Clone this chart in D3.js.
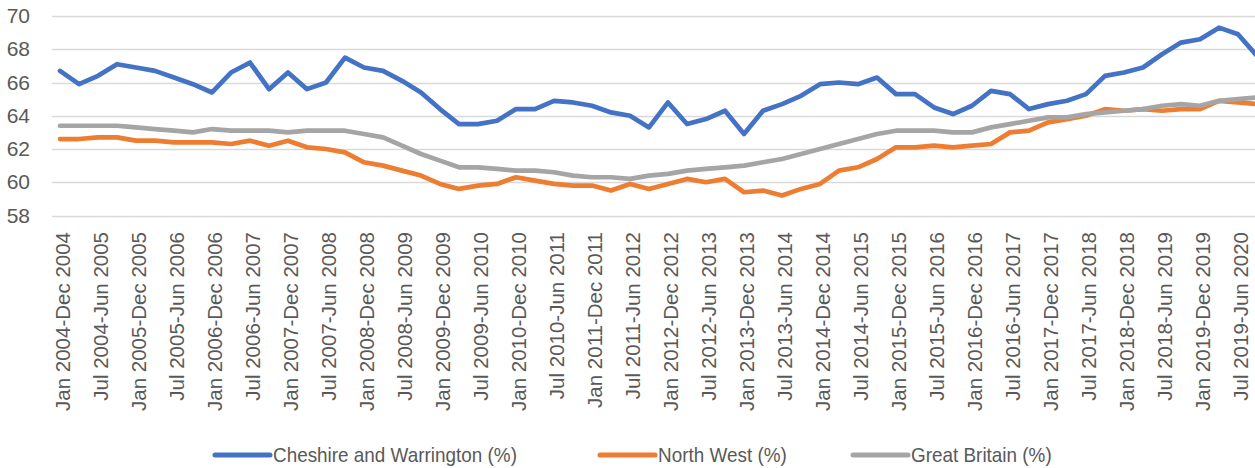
<!DOCTYPE html>
<html>
<head>
<meta charset="utf-8">
<script src="https://cdn.jsdelivr.net/npm/d3@7"></script>
<style>
  body { margin: 0; background: #fff; }
  svg { display: block; }
  text { font-family: "Liberation Sans", Arial, sans-serif; fill: #595959; }
</style>
</head>
<body>
<svg id="chart"></svg>
<script>
// rolling annual periods, quarterly
const categories = [
  "Jan 2004-Dec 2004", "Apr 2004-Mar 2005", "Jul 2004-Jun 2005", "Oct 2004-Sep 2005",
  "Jan 2005-Dec 2005", "Apr 2005-Mar 2006", "Jul 2005-Jun 2006", "Oct 2005-Sep 2006",
  "Jan 2006-Dec 2006", "Apr 2006-Mar 2007", "Jul 2006-Jun 2007", "Oct 2006-Sep 2007",
  "Jan 2007-Dec 2007", "Apr 2007-Mar 2008", "Jul 2007-Jun 2008", "Oct 2007-Sep 2008",
  "Jan 2008-Dec 2008", "Apr 2008-Mar 2009", "Jul 2008-Jun 2009", "Oct 2008-Sep 2009",
  "Jan 2009-Dec 2009", "Apr 2009-Mar 2010", "Jul 2009-Jun 2010", "Oct 2009-Sep 2010",
  "Jan 2010-Dec 2010", "Apr 2010-Mar 2011", "Jul 2010-Jun 2011", "Oct 2010-Sep 2011",
  "Jan 2011-Dec 2011", "Apr 2011-Mar 2012", "Jul 2011-Jun 2012", "Oct 2011-Sep 2012",
  "Jan 2012-Dec 2012", "Apr 2012-Mar 2013", "Jul 2012-Jun 2013", "Oct 2012-Sep 2013",
  "Jan 2013-Dec 2013", "Apr 2013-Mar 2014", "Jul 2013-Jun 2014", "Oct 2013-Sep 2014",
  "Jan 2014-Dec 2014", "Apr 2014-Mar 2015", "Jul 2014-Jun 2015", "Oct 2014-Sep 2015",
  "Jan 2015-Dec 2015", "Apr 2015-Mar 2016", "Jul 2015-Jun 2016", "Oct 2015-Sep 2016",
  "Jan 2016-Dec 2016", "Apr 2016-Mar 2017", "Jul 2016-Jun 2017", "Oct 2016-Sep 2017",
  "Jan 2017-Dec 2017", "Apr 2017-Mar 2018", "Jul 2017-Jun 2018", "Oct 2017-Sep 2018",
  "Jan 2018-Dec 2018", "Apr 2018-Mar 2019", "Jul 2018-Jun 2019", "Oct 2018-Sep 2019",
  "Jan 2019-Dec 2019", "Apr 2019-Mar 2020", "Jul 2019-Jun 2020", "Oct 2019-Sep 2020"
];

const cheshire = [
  66.7, 65.9, 66.4, 67.1, 66.9, 66.7, 66.3, 65.9, 65.4, 66.6,
  67.2, 65.6, 66.6, 65.6, 66.0, 67.5, 66.9, 66.7, 66.1, 65.4,
  64.4, 63.5, 63.5, 63.7, 64.4, 64.4, 64.9, 64.8, 64.6, 64.2,
  64.0, 63.3, 64.8, 63.5, 63.8, 64.3, 62.9, 64.3, 64.7, 65.2,
  65.9, 66.0, 65.9, 66.3, 65.3, 65.3, 64.5, 64.1, 64.6, 65.5,
  65.3, 64.4, 64.7, 64.9, 65.3, 66.4, 66.6, 66.9, 67.7, 68.4,
  68.6, 69.3, 68.9, 67.6
];

const northWest = [
  62.6, 62.6, 62.7, 62.7, 62.5, 62.5, 62.4, 62.4, 62.4, 62.3,
  62.5, 62.2, 62.5, 62.1, 62.0, 61.8, 61.2, 61.0, 60.7, 60.4,
  59.9, 59.6, 59.8, 59.9, 60.3, 60.1, 59.9, 59.8, 59.8, 59.5,
  59.9, 59.6, 59.9, 60.2, 60.0, 60.2, 59.4, 59.5, 59.2, 59.6,
  59.9, 60.7, 60.9, 61.4, 62.1, 62.1, 62.2, 62.1, 62.2, 62.3,
  63.0, 63.1, 63.6, 63.8, 64.0, 64.4, 64.3, 64.4, 64.3, 64.4,
  64.4, 64.9, 64.8, 64.7
];

const greatBritain = [
  63.4, 63.4, 63.4, 63.4, 63.3, 63.2, 63.1, 63.0, 63.2, 63.1,
  63.1, 63.1, 63.0, 63.1, 63.1, 63.1, 62.9, 62.7, 62.2, 61.7,
  61.3, 60.9, 60.9, 60.8, 60.7, 60.7, 60.6, 60.4, 60.3, 60.3,
  60.2, 60.4, 60.5, 60.7, 60.8, 60.9, 61.0, 61.2, 61.4, 61.7,
  62.0, 62.3, 62.6, 62.9, 63.1, 63.1, 63.1, 63.0, 63.0, 63.3,
  63.5, 63.7, 63.9, 63.9, 64.1, 64.2, 64.3, 64.4, 64.6, 64.7,
  64.6, 64.9, 65.0, 65.1
];

const yTicks = [58, 60, 62, 64, 66, 68, 70];
const seriesNames = ["Cheshire and Warrington (%)", "North West (%)", "Great Britain (%)"];
const seriesColors = ["#4472C4", "#ED7D31", "#A5A5A5"];

const W = 1255, H = 468;
const svg = d3.select("#chart").attr("width", W).attr("height", H);

// band per period, plot runs a bit past the right edge like the original
const x = d3.scaleBand()
  .domain(categories)
  .range([50.5, 50.5 + categories.length * 19])
  .padding(0);
const y = d3.scaleLinear().domain([58, 70]).range([215.5, 16]);
const cx = d => x(d) + x.bandwidth() / 2;

// gridlines
svg.append("g")
  .selectAll("line")
  .data(yTicks)
  .join("line")
  .attr("x1", 52)
  .attr("x2", x.range()[1])
  .attr("y1", d => Math.round(y(d)) + 0.5)
  .attr("y2", d => Math.round(y(d)) + 0.5)
  .attr("stroke", "#d9d9d9")
  .attr("stroke-width", 1.3);

// y axis labels
const yAxis = svg.append("g")
  .attr("transform", "translate(30,0)")
  .call(d3.axisLeft(y).tickValues(yTicks).tickSize(0).tickPadding(0).tickFormat(d3.format("d")));
yAxis.select(".domain").remove();
yAxis.selectAll("text")
  .attr("font-size", 21)
  .attr("font-family", "Liberation Sans, Arial, sans-serif")
  .attr("fill", "#595959");

// x axis labels, every second period
const xAxis = svg.append("g")
  .attr("transform", "translate(0,232)")
  .call(d3.axisBottom(x).tickValues(categories.filter((d, i) => i % 2 === 0)).tickSize(0));
xAxis.select(".domain").remove();
xAxis.selectAll("text")
  .attr("transform", "rotate(-90)")
  .attr("x", 0)
  .attr("y", 3)
  .attr("dy", "0.35em")
  .attr("text-anchor", "end")
  .attr("font-size", 20.5)
  .attr("font-family", "Liberation Sans, Arial, sans-serif")
  .attr("fill", "#595959");

// lines, later series drawn on top
const allSeries = [cheshire, northWest, greatBritain];
const line = d3.line()
  .x((d, i) => cx(categories[i]))
  .y(d => y(d));

allSeries.forEach((s, k) => {
  svg.append("path")
    .datum(s)
    .attr("d", line)
    .attr("fill", "none")
    .attr("stroke", seriesColors[k])
    .attr("stroke-width", 4.7)
    .attr("stroke-linejoin", "round")
    .attr("stroke-linecap", "round");
});

// legend, text squeezed a little like the narrow original font
const legendX = [215, 600, 853];
const legend = svg.append("g");
seriesNames.forEach((name, k) => {
  legend.append("line")
    .attr("x1", legendX[k])
    .attr("x2", legendX[k] + 55)
    .attr("y1", 455)
    .attr("y2", 455)
    .attr("stroke", seriesColors[k])
    .attr("stroke-width", 5)
    .attr("stroke-linecap", "round");
  legend.append("text")
    .attr("transform", "translate(" + (legendX[k] + 58) + ",462) scale(0.9,1)")
    .attr("font-size", 21)
    .text(name);
});
</script>
</body>
</html>
